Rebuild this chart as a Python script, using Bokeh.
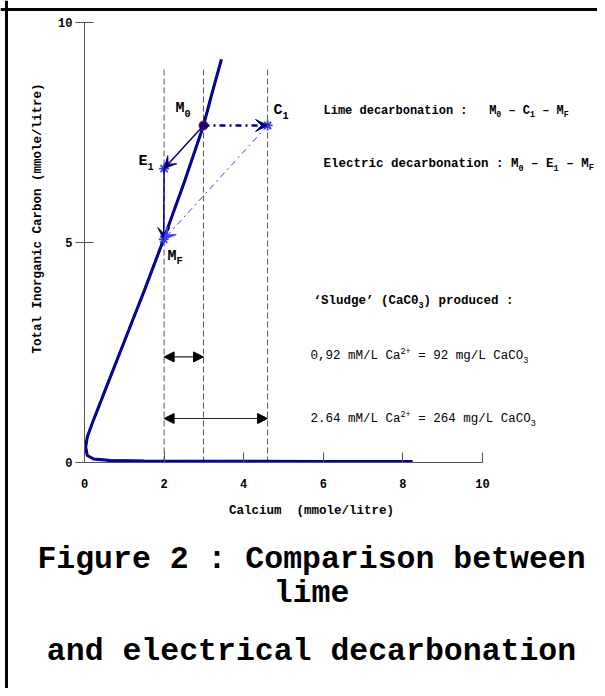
import math
from bokeh.plotting import figure
from bokeh.models import (Range1d, LinearAxis, FixedTicker, Label, Arrow, VeeHead,
                          NormalHead, Span)
from bokeh.embed import file_html
from bokeh.resources import INLINE

# ---------------- data ----------------
curve_ca = [3.44, 3.2, 2.99, 2.5, 1.98, 1.5, 1.0, 0.5, 0.19, 0.07, 0.03, 0.07, 0.23,
            0.65, 1.5, 3.4, 6.0, 8.24]
curve_tic = [9.16, 8.38, 7.66, 6.35, 5.05, 3.9, 2.75, 1.6, 0.88, 0.58, 0.35, 0.16, 0.08,
             0.045, 0.035, 0.03, 0.02, 0.02]
point_names = ["M0", "C1", "E1", "MF"]
point_ca = [2.99, 4.6, 2.0, 1.99]
point_tic = [7.66, 7.66, 6.68, 5.07]
guide_ca = [2.0, 2.99, 4.6]
guide_top = [9.0, 9.0, 9.0]
sludge_tic = [2.4, 1.0]
sludge_from = [2.0, 2.0]
sludge_to = [2.99, 4.6]
x_ticks = [0, 2, 4, 6, 8, 10]
y_ticks = [0, 5, 10]

# ---------------- layout calibration ----------------
W, H = 597, 688
OX, OY = 84, 462        # canvas pixel of the data origin
SX, SY = 39.8, 44.0     # pixels per unit
NB = "\u00a0"


def dx(px):  # pixel -> data x
    return (px - OX) / SX


def dy(py):  # pixel -> data y
    return (OY - py) / SY


p = figure(width=W, height=H,
           x_range=Range1d(-OX / SX, (W - OX) / SX),
           y_range=Range1d((OY - H) / SY, OY / SY),
           output_backend="svg", toolbar_location=None,
           x_axis_type=None, y_axis_type=None, min_border=0,
           outline_line_color=None, background_fill_color="white",
           border_fill_color="white")

FONT = "Liberation Mono"

# border of the figure box
p.add_layout(Span(location=dy(9), dimension="width", line_color="black", line_width=3))
p.add_layout(Span(location=dx(6), dimension="height", line_color="black", line_width=3))

# axes
axis_style = dict(axis_line_color="#555555", major_tick_line_color="#555555",
                  minor_tick_line_color=None,
                  major_label_text_font=FONT, major_label_text_font_style="bold",
                  major_label_text_font_size="12px", major_label_text_color="black")
xa = LinearAxis(fixed_location=0, bounds=(0, 10), ticker=FixedTicker(ticks=x_ticks),
                major_tick_in=10, major_tick_out=0, major_label_standoff=16, **axis_style)
p.add_layout(xa, "below")
ya = LinearAxis(fixed_location=0, bounds=(0, 10), ticker=FixedTicker(ticks=y_ticks),
                major_tick_in=9, major_tick_out=9, major_label_standoff=3, **axis_style)
p.add_layout(ya, "left")

# dashed guide lines
p.segment(x0=guide_ca, y0=[0] * len(guide_ca), x1=guide_ca, y1=guide_top,
          line_color="#555555", line_width=1, line_dash="6 3")

# equilibrium curve
p.line(curve_ca, curve_tic, line_color="black", line_width=3)
p.line(curve_ca, curve_tic, line_color="#0000e0", line_width=1.8)

iM0, iC1, iE1, iMF = [point_names.index(n) for n in point_names]

NAVY = "#000080"
LBLUE = "#3b3bff"
# arrows between states
p.add_layout(Arrow(end=VeeHead(size=12, fill_color=NAVY, line_color=NAVY),
                   x_start=point_ca[iM0], y_start=point_tic[iM0],
                   x_end=point_ca[iC1], y_end=point_tic[iC1],
                   line_color=NAVY, line_width=2.5, line_dash="dashdot"))
p.add_layout(Arrow(end=VeeHead(size=12, fill_color=NAVY, line_color=NAVY),
                   x_start=point_ca[iM0], y_start=point_tic[iM0],
                   x_end=point_ca[iE1], y_end=point_tic[iE1],
                   line_color=NAVY, line_width=1.5))
p.add_layout(Arrow(end=VeeHead(size=12, fill_color=NAVY, line_color=NAVY),
                   x_start=point_ca[iE1], y_start=point_tic[iE1],
                   x_end=point_ca[iMF], y_end=point_tic[iMF],
                   line_color=NAVY, line_width=1.5))
p.add_layout(Arrow(end=VeeHead(size=12, fill_color=LBLUE, line_color=LBLUE),
                   x_start=point_ca[iC1], y_start=point_tic[iC1],
                   x_end=point_ca[iMF], y_end=point_tic[iMF],
                   line_color=LBLUE, line_width=1, line_dash="dashdot"))

# points
p.scatter([point_ca[i] for i in (iC1, iE1, iMF)], [point_tic[i] for i in (iC1, iE1, iMF)],
          marker="asterisk", size=10, line_color="#3a3ad8", line_width=1.8)
p.scatter([point_ca[iM0]], [point_tic[iM0]], marker="circle", size=9,
          fill_color="#2a0a60", line_color="#8a1060", line_width=1)

# sludge double arrows
for y, a, b in zip(sludge_tic, sludge_from, sludge_to):
    p.add_layout(Arrow(start=NormalHead(size=10, fill_color="black", line_color="black"),
                       end=NormalHead(size=10, fill_color="black", line_color="black"),
                       x_start=a, y_start=y, x_end=b, y_end=y,
                       line_color="#222222", line_width=1.2))


def keep_spaces(t):
    # SVG collapses runs of spaces and trims ends: use no-break spaces there
    out = t.replace("  ", NB + NB)
    if out.startswith(" "):
        out = NB + out[1:]
    if out.endswith(" "):
        out = out[:-1] + NB
    return out


def rich(px, py, runs, size, bold=True, color="black"):
    x = px
    for txt, kind in runs:
        s = size if kind == "n" else round(size * 0.68, 1)
        off = 0 if kind == "n" else (size * 0.32 if kind == "sub" else -size * 0.38)
        p.add_layout(Label(x=dx(x), y=dy(py + off), text=keep_spaces(txt), text_font=FONT,
                           text_font_size=f"{s}px",
                           text_font_style="bold" if bold else "normal",
                           text_baseline="middle", text_align="left", text_color=color))
        x += len(txt) * 0.6 * s


# point labels
rich(175, 108, [("M", "n"), ("0", "sub")], 15)
rich(273, 110, [("C", "n"), ("1", "sub")], 15)
rich(138, 161, [("E", "n"), ("1", "sub")], 15)
rich(167, 256, [("M", "n"), ("F", "sub")], 15)

# legend texts
rich(323, 110, [("Lime decarbonation :   M", "n"), ("0", "sub"), (" – C", "n"), ("1", "sub"),
                (" – M", "n"), ("F", "sub")], 12)
rich(323, 163, [("Electric decarbonation : M", "n"), ("0", "sub"), (" – E", "n"), ("1", "sub"),
                (" – M", "n"), ("F", "sub")], 12.5)
rich(313, 300, [("‘Sludge’ (CaC0", "n"), ("3", "sub"), (") produced :", "n")], 12.5)
rich(310, 355, [("0,92 mM/L Ca", "n"), ("2+", "sup"), (" = 92 mg/L CaCO", "n"), ("3", "sub")],
     12.5, bold=False)
rich(310, 418, [("2.64 mM/L Ca", "n"), ("2+", "sup"), (" = 264 mg/L CaCO", "n"), ("3", "sub")],
     12.5, bold=False)

# axis titles
p.add_layout(Label(x=dx(311), y=dy(510), text=keep_spaces("Calcium  (mmole/litre)"),
                   text_font=FONT, text_color="black",
                   text_font_size="12.5px", text_font_style="bold", text_align="center",
                   text_baseline="middle"))
p.add_layout(Label(x=dx(37), y=dy(218), text="Total Inorganic Carbon (mmole/litre)",
                   text_font=FONT, text_font_size="12.5px", text_font_style="bold",
                   text_color="black",
                   text_align="center", text_baseline="middle", angle=math.pi / 2))

# caption
for txt, yc in [("Figure 2 : Comparison between", 559), ("lime", 593),
                ("and electrical decarbonation", 651)]:
    p.add_layout(Label(x=dx(311), y=dy(yc), text=txt, text_font=FONT, text_font_size="31.5px",
                       text_color="black",
                       text_font_style="bold", text_align="center", text_baseline="middle"))

open("out.html", "w").write(file_html(p, INLINE))
